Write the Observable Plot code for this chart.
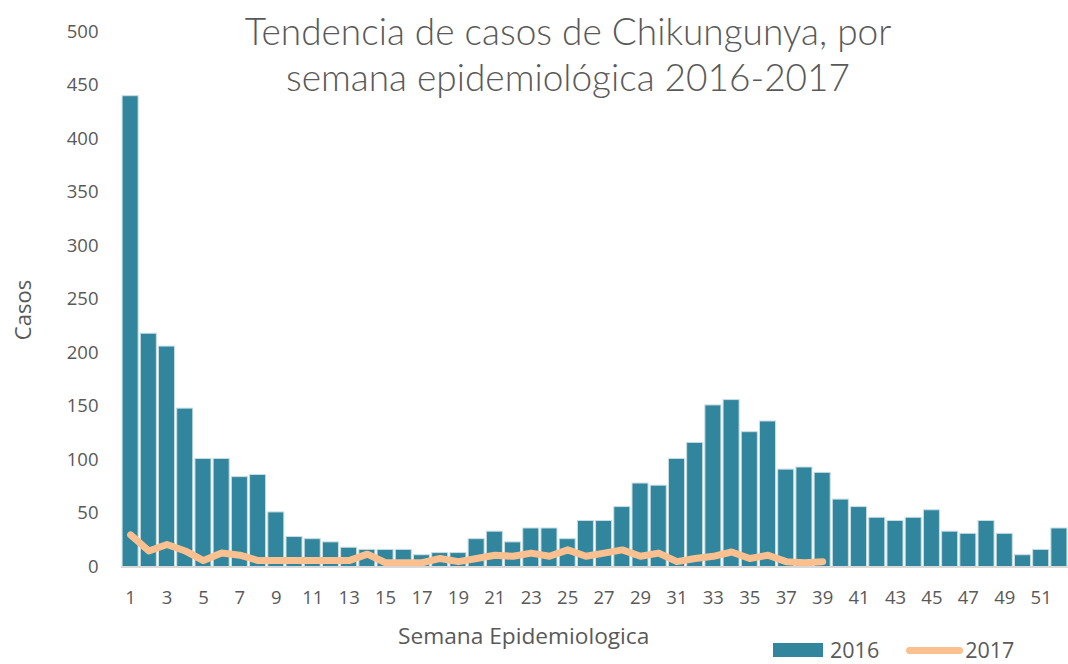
<!DOCTYPE html>
<html>
<head>
<meta charset="utf-8">
<script src="https://cdn.jsdelivr.net/npm/d3@7"></script>
<script src="https://cdn.jsdelivr.net/npm/@observablehq/plot@0.6"></script>
<style>
  html, body { margin: 0; padding: 0; background: #fff; }
  #wrap { position: relative; width: 1068px; height: 664px; overflow: hidden; }
  .title { position: absolute; left: 0; width: 1136px; top: 8px; text-align: center;
    font-family: Lato, "Open Sans", sans-serif; font-weight: 300; font-size: 37px; line-height: 46px; color: #595959; }
  .xlab { position: absolute; left: 398px; top: 622px; font-family: "Open Sans", sans-serif; font-size: 22.7px; line-height: 28px; color: #595959; }
  .ylab { position: absolute; left: 22px; top: 310px; transform: translate(-50%, -50%) rotate(-90deg);
    font-family: "Open Sans", sans-serif; font-size: 22px; line-height: 28px; color: #595959; white-space: nowrap; }
  .legend { position: absolute; top: 640px; left: 773px; font-family: "Open Sans", sans-serif; font-size: 21.5px; line-height: 20px; color: #595959; display: flex; align-items: center; }
  .sw-bar { width: 50px; height: 14px; background: #31859C; margin-right: 7px; }
  .sw-line { width: 57px; height: 7px; border-radius: 4px; background: #FAC090; margin-left: 27px; margin-right: 2px; }
</style>
</head>
<body>
<div id="wrap">
  <div id="chart"></div>
  <div class="title">Tendencia de casos de Chikungunya, por<br>semana epidemiológica 2016-2017</div>
  <div class="ylab">Casos</div>
  <div class="xlab">Semana Epidemiologica</div>
  <div class="legend"><div class="sw-bar"></div><span>2016</span><div class="sw-line"></div><span>2017</span></div>
</div>
<script>
const weeks2016 = d3.range(1, 53);
const cases2016 = [440, 218, 206, 148, 101, 101, 84, 86, 51, 28,
                   26, 23, 18, 16, 16, 16, 11, 13, 13, 26,
                   33, 23, 36, 36, 26, 43, 43, 56, 78, 76,
                   101, 116, 151, 156, 126, 136, 91, 93, 88, 63,
                   56, 46, 43, 46, 53, 33, 31, 43, 31, 11,
                   16, 36];
const weeks2017 = d3.range(1, 40);
const cases2017 = [30, 15, 21, 15, 6, 13, 11, 6, 6, 6,
                   6, 6, 6, 12, 4, 4, 4, 8, 5, 8,
                   11, 10, 13, 10, 16, 10, 13, 16, 10, 13,
                   5, 8, 10, 14, 8, 11, 5, 4, 5];
const xTicks = d3.range(1, 53, 2);
const yTicks = d3.range(0, 501, 50);

const bars = weeks2016.map((w, i) => ({w, v: cases2016[i]}));
const line = weeks2017.map((w, i) => ({w, v: cases2017[i]}));
const half = 0.44;

const chart = Plot.plot({
  width: 1068,
  height: 664,
  marginLeft: 121,
  marginRight: 0,
  marginTop: 31.5,
  marginBottom: 97.5,
  style: {fontFamily: "'Open Sans', sans-serif", fontSize: "18.5px", color: "#595959", background: "transparent"},
  x: {domain: [0.5, 52.5], ticks: xTicks},
  y: {domain: [0, 500], ticks: yTicks},
  marks: [
    Plot.rectY(bars, {x1: d => d.w - half, x2: d => d.w + half, y: "v", fill: "#31859C", stroke: "#c9dde3", strokeWidth: 1}),
    Plot.ruleY([0], {stroke: "#d9d9d9", strokeWidth: 2}),
    Plot.lineY(line, {x: "w", y: "v", stroke: "#FAC090", strokeWidth: 7, strokeLinecap: "round", strokeLinejoin: "round"}),
    Plot.axisX({ticks: xTicks, tickSize: 0, tickPadding: 24, label: null, fill: "#595959", tickFormat: d => String(d)}),
    Plot.axisY({ticks: yTicks, tickSize: 0, tickPadding: 23, label: null, fill: "#595959"})
  ]
});
document.getElementById("chart").appendChild(chart);
</script>
</body>
</html>
